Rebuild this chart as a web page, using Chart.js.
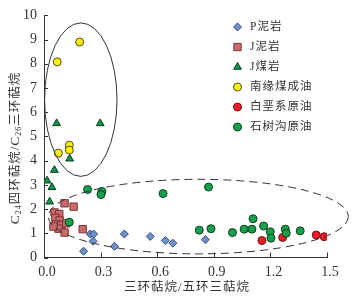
<!DOCTYPE html>
<html lang="zh">
<head>
<meta charset="UTF-8">
<title>三环萜烷/五环三萜烷</title>
<script src="https://cdn.jsdelivr.net/npm/chart.js"></script>
<style>
    body { margin: 0; background: #fff; }
    canvas { display: block; }
</style>
</head>
<body>
<canvas id="chart" width="355" height="300"></canvas>
<script>
    // axis ticks
    const xTicks = [0, 0.3, 0.6, 0.9, 1.2, 1.5];
    const yTicks = [0, 1, 2, 3, 4, 5, 6, 7, 8, 9, 10];

    // P泥岩
    const pMudX = [0.21, 0.245, 0.263, 0.26, 0.374, 0.426, 0.563, 0.643, 0.683, 0.855];
    const pMudY = [0.26, 0.97, 0.97, 0.67, 0.46, 0.97, 0.87, 0.70, 0.59, 0.74];
    // J泥岩
    const jMudX = [0.109, 0.157, 0.056, 0.081, 0.060, 0.083, 0.065, 0.092, 0.118, 0.077, 0.109, 0.205, 0.05];
    const jMudY = [2.24, 2.10, 1.86, 1.80, 1.64, 1.53, 1.37, 1.33, 1.41, 1.19, 1.03, 1.17, 1.28];
    // J煤岩
    const jCoalX = [0.067, 0.298, 0.136, 0.055, 0.016, 0.042, 0.03];
    const jCoalY = [5.54, 5.54, 4.08, 3.61, 3.17, 2.90, 2.30];
    // 南缘煤成油
    const nyOilX = [0.189, 0.07, 0.134, 0.134, 0.076];
    const nyOilY = [8.90, 8.08, 4.64, 4.44, 4.31];
    // 白垩系原油
    const kOilX = [1.155, 1.265, 1.443, 1.485];
    const kOilY = [0.70, 0.83, 0.93, 0.86];
    // 石树沟原油
    const ssgOilX = [0.231, 0.307, 0.302, 0.631, 0.872, 0.823, 0.885, 0.999, 1.061, 1.102, 1.108, 1.164, 1.199, 1.203, 1.279, 1.284, 1.358, 0.134];
    const ssgOilY = [2.81, 2.73, 2.60, 2.64, 2.91, 1.13, 1.19, 1.03, 1.17, 1.17, 1.60, 1.30, 1.06, 0.80, 1.17, 1.00, 1.10, 1.46];

    // ellipses (data units): cx, cy, rx, ry
    const oilEllipse = [0.195, 6.52, 0.192, 3.17];
    const mixEllipse = [0.818, 1.69, 0.795, 1.54];

    const pts = (xs, ys) => xs.map((x, i) => ({ x: x, y: ys[i] }));

    const serif = "'Liberation Serif', 'Times New Roman', 'Noto Sans CJK SC', serif";
    const txt = '#333';

    const decor = {
        id: 'decor',
        afterDatasetsDraw(chart) {
            const ctx = chart.ctx;
            const xs = chart.scales.x, ys = chart.scales.y;
            const area = chart.chartArea;
            ctx.save();
            ctx.strokeStyle = '#333';
            ctx.lineWidth = 1;

            // inward tick marks
            ctx.beginPath();
            yTicks.forEach(v => {
                const p = Math.round(ys.getPixelForValue(v)) + 0.5;
                ctx.moveTo(area.left, p);
                ctx.lineTo(area.left + 4, p);
            });
            xTicks.forEach(v => {
                const p = Math.round(xs.getPixelForValue(v)) + 0.5;
                ctx.moveTo(p, area.bottom);
                ctx.lineTo(p, area.bottom - 5);
            });
            ctx.stroke();

            // ellipses
            const ell = (e, dash) => {
                const cx = xs.getPixelForValue(e[0]);
                const cy = ys.getPixelForValue(e[1]);
                const rx = xs.getPixelForValue(e[0] + e[2]) - cx;
                const ry = cy - ys.getPixelForValue(e[1] + e[3]);
                ctx.setLineDash(dash);
                ctx.beginPath();
                ctx.ellipse(cx, cy, rx, ry, 0, 0, Math.PI * 2);
                ctx.stroke();
            };
            ell(oilEllipse, []);
            ell(mixEllipse, [8, 5]);
            ctx.setLineDash([]);

            // legend
            chart.data.datasets.forEach((ds, i) => {
                const y = 27 + i * 20;
                ctx.fillStyle = ds.backgroundColor;
                ctx.strokeStyle = ds.borderColor;
                ctx.lineWidth = 1;
                Chart.helpers.drawPoint(ctx, {
                    pointStyle: ds.pointStyle,
                    radius: ds.pointRadius,
                    rotation: 0,
                    borderWidth: 1
                }, 237.5, y);
                ctx.fillStyle = txt;
                ctx.font = '11.5px ' + serif;
                ctx.textAlign = 'left';
                ctx.textBaseline = 'middle';
                ctx.letterSpacing = '1px';
                ctx.fillText(ds.label, 250, y);
            });
            ctx.letterSpacing = '0px';

            // x title
            ctx.fillStyle = txt;
            ctx.font = '12.5px ' + serif;
            ctx.textAlign = 'center';
            ctx.textBaseline = 'middle';
            ctx.letterSpacing = '1px';
            ctx.fillText('三环萜烷/五环三萜烷', 187, 288);

            // y title with subscripts, rotated
            ctx.translate(15.5, 148);
            ctx.rotate(-Math.PI / 2);
            const parts = [['C', 13.5, 0], ['24', 8, 3], ['四环萜烷/', 12.5, 0], ['C', 13.5, 0], ['26', 8, 3], ['三环萜烷', 12.5, 0]];
            let total = 0;
            parts.forEach(p => { ctx.font = p[1] + 'px ' + serif; total += ctx.measureText(p[0]).width; });
            let cx = -total / 2;
            ctx.textAlign = 'left';
            ctx.textBaseline = 'middle';
            parts.forEach(p => {
                ctx.font = p[1] + 'px ' + serif;
                ctx.fillText(p[0], cx, p[2]);
                cx += ctx.measureText(p[0]).width;
            });
            ctx.restore();
        }
    };

    const ds = (label, xs, ys, style, r, fill, border, order) => ({
        label: label,
        data: pts(xs, ys),
        pointStyle: style,
        pointRadius: r,
        pointHoverRadius: r,
        backgroundColor: fill,
        borderColor: border,
        pointBorderWidth: 1,
        showLine: false,
        order: order
    });

    new Chart(document.getElementById('chart'), {
        type: 'scatter',
        data: {
            datasets: [
                ds('P泥岩', pMudX, pMudY, 'rectRot', 4, '#7090cc', '#3a4a78', 5),
                ds('J泥岩', jMudX, jMudY, 'rect', 5.2, '#c96a6b', '#7a3436', 4),
                ds('J煤岩', jCoalX, jCoalY, 'triangle', 4.5, '#12944a', '#0b3d1f', 3),
                ds('南缘煤成油', nyOilX, nyOilY, 'circle', 4, '#fff200', '#4a4a30', 2),
                ds('白垩系原油', kOilX, kOilY, 'circle', 4, '#ee1c25', '#6a1414', 1),
                ds('石树沟原油', ssgOilX, ssgOilY, 'circle', 4, '#17a04b', '#0f3d1e', 0)
            ]
        },
        options: {
            responsive: false,
            animation: false,
            layout: { padding: { top: 8, right: 28, left: 0, bottom: 0 } },
            plugins: { legend: { display: false }, tooltip: { enabled: false } },
            scales: {
                x: {
                    type: 'linear',
                    min: 0,
                    max: 1.5,
                    afterBuildTicks: s => { s.ticks = xTicks.map(v => ({ value: v })); },
                    afterFit: s => { s.height = 42.5; },
                    grid: { display: false, drawTicks: false },
                    border: { display: true, color: '#333', width: 1 },
                    ticks: {
                        padding: 6,
                        labelOffset: 3,
                        color: txt,
                        font: { family: serif, size: 14 },
                        callback: v => v.toFixed(1)
                    }
                },
                y: {
                    type: 'linear',
                    min: 0,
                    max: 10,
                    afterBuildTicks: s => { s.ticks = yTicks.map(v => ({ value: v })); },
                    afterFit: s => { s.width = 44; },
                    grid: { display: false, drawTicks: false },
                    border: { display: true, color: '#333', width: 1 },
                    ticks: {
                        padding: 7,
                        color: txt,
                        font: { family: serif, size: 14 },
                        callback: v => String(v)
                    }
                }
            }
        },
        plugins: [decor]
    });
</script>
</body>
</html>
